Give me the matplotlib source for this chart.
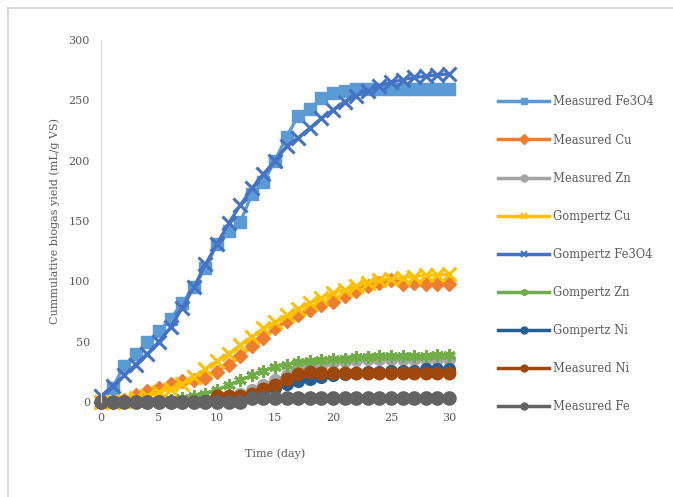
import matplotlib.pyplot as plt
from matplotlib.lines import Line2D

# ----------------------
# DATA (day 0..30)
# ----------------------
days = list(range(31))

measured_fe3o4 = [0, 12, 30, 40, 50, 59, 69, 82, 95, 111, 131, 142, 149, 172, 182,
                  200, 220, 237, 243, 252, 256, 258, 259, 259, 259, 259, 259, 259, 259, 259, 259]
measured_cu = [0, 0, 2, 6, 9, 12, 15, 17, 18, 20, 25, 31, 38, 46, 53,
               61, 67, 72, 76, 80, 83, 88, 92, 96, 99, 101, 98, 99, 98, 98, 98]
measured_zn = [0, 0, 0, 0, 0, 0, 0, 1, 1, 2, 3, 5, 7, 10, 14,
               18, 22, 26, 29, 31, 33, 34, 35, 36, 36, 36, 36, 36, 36, 36, 36]
gompertz_cu = [0, 0, 1, 3, 5, 8, 11, 15, 21, 27, 34, 40, 47, 54, 61,
               66, 72, 77, 82, 86, 90, 93, 96, 99, 101, 102, 103, 104, 105, 105, 106]
gompertz_fe3o4 = [5, 13, 22, 31, 40, 50, 62, 78, 95, 114, 131, 148, 163, 177, 189,
                  200, 212, 219, 227, 235, 242, 249, 254, 258, 262, 265, 267, 269, 270, 271, 272]
gompertz_zn = [0, 0, 0, 0, 1, 1, 2, 3, 5, 7, 10, 14, 18, 22, 26,
               29, 31, 33, 34, 35, 36, 36, 37, 37, 38, 38, 38, 38, 38, 39, 39]
gompertz_ni = [0, 0, 0, 0, 0, 0, 0, 0, 0, 1, 1, 2, 4, 6, 9,
               12, 15, 17, 19, 21, 22, 23, 24, 25, 25, 26, 26, 26, 27, 27, 27]
measured_ni = [0, 0, 0, 0, 0, 0, 0, 0, 0, 0, 5, 5, 5, 7, 11,
               14, 19, 23, 25, 24, 24, 24, 24, 24, 24, 24, 24, 24, 24, 24, 24]
measured_fe = [0, 0, 0, 0, 0, 0, 0, 0, 0, 0, 0, 0, 0, 3, 3,
               3, 3, 3, 3, 3, 3, 3, 3, 3, 3, 3, 3, 3, 3, 3, 3]

series = [
    ("Measured Fe3O4", measured_fe3o4, "#5B9BD5", "s", 8.5),
    ("Measured Cu", measured_cu, "#ED7D31", "D", 7.5),
    ("Measured Zn", measured_zn, "#A5A5A5", "o", 8.5),
    ("Gompertz Cu", gompertz_cu, "#FFC000", "x", 9.5),
    ("Gompertz Fe3O4", gompertz_fe3o4, "#4472C4", "x", 9.5),
    ("Gompertz Zn", gompertz_zn, "#70AD47", (6, 2, 0), 9),
    ("Gompertz Ni", gompertz_ni, "#255E91", "o", 8.5),
    ("Measured Ni", measured_ni, "#9E480E", "o", 9),
    ("Measured Fe", measured_fe, "#636363", "o", 9.5),
]

TEXT_GREY = "#595959"
FONT = "DejaVu Serif"

# ----------------------
# PLOT
# ----------------------
fig = plt.figure(figsize=(6.73, 4.97), dpi=100)
ax = fig.add_axes([101 / 673, 1 - 402 / 497, 348 / 673, 362 / 497])

for name, vals, color, marker, ms in series:
    ax.plot(days, vals, color=color, lw=2.3, marker=marker, ms=ms,
            mew=2.2 if marker in ("x", (6, 2, 0)) else 1,
            clip_on=False, label=name)

ax.set_xlim(0, 30)
ax.set_ylim(0, 300)
ax.set_xticks(range(0, 31, 5))
ax.set_yticks(range(0, 301, 50))
ax.tick_params(length=0, labelsize=8, colors=TEXT_GREY, pad=8)
for lbl in ax.get_xticklabels() + ax.get_yticklabels():
    lbl.set_fontfamily(FONT)

for side in ["top", "right", "bottom"]:
    ax.spines[side].set_visible(False)
ax.spines["left"].set_color("#D9D9D9")

ax.set_xlabel("Time (day)", fontsize=8, color=TEXT_GREY, family=FONT, labelpad=18)
ax.set_ylabel("Cummulative biogas yield (mL/g VS)", fontsize=8, color=TEXT_GREY,
              family=FONT, labelpad=6)

# legend with small markers, like Excel
handles = [Line2D([], [], color=c, lw=2.5, marker=m, ms=5,
                  mew=1.5 if m in ("x", (6, 2, 0)) else 1)
           for _, _, c, m, _ in series]
labels = [s[0] for s in series]
leg = fig.legend(handles, labels, loc="upper left", bbox_to_anchor=(488 / 673, 1 - 85 / 497),
                 frameon=False, handlelength=4.4, handletextpad=0.3, labelspacing=2.18,
                 prop={"family": FONT, "size": 8.3})
for t in leg.get_texts():
    t.set_color(TEXT_GREY)

# outer chart frame (top and left edges visible)
fig.add_artist(Line2D([8 / 673, 1], [1 - 8 / 497, 1 - 8 / 497], color="#D9D9D9", lw=1.5))
fig.add_artist(Line2D([8 / 673, 8 / 673], [0, 1 - 8 / 497], color="#D9D9D9", lw=1.5))

fig.savefig("out.png", dpi=100)
